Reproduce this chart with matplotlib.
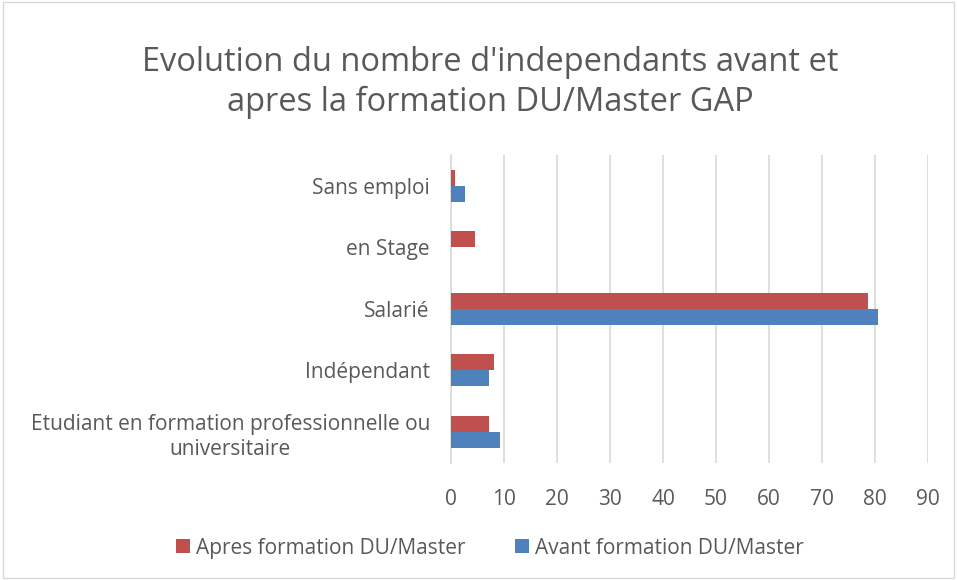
import numpy as np
import matplotlib.pyplot as plt

# ── data ────────────────────────────────────────────────────────────────────
categories = [
    "Etudiant en formation professionnelle ou\nuniversitaire",
    "Indépendant",
    "Salarié",
    "en Stage",
    "Sans emploi",
]
apres = [7.3, 8.2, 78.7, 4.5, 0.8]
avant = [9.2, 7.3, 80.6, 0.0, 2.7]
series_names = ["Apres formation DU/Master", "Avant formation DU/Master"]
xticks = list(range(0, 100, 10))
title = "Evolution du nombre d'independants avant et\napres la formation DU/Master GAP"
# ────────────────────────────────────────────────────────────────────────────

RED = "#C0504D"
BLUE = "#4F81BD"
TXT = "#595959"
GRID = "#D9D9D9"

plt.rcParams["font.family"] = ["Open Sans", "DejaVu Sans"]

fig = plt.figure(figsize=(9.57, 5.8), dpi=100)
ax = fig.add_axes([0.471, 0.202, 0.499, 0.531])

y = np.arange(len(categories))
h = 0.26
ax.barh(y + h / 2, apres, height=h, color=RED, label=series_names[0], zorder=3)
ax.barh(y - h / 2, avant, height=h, color=BLUE, label=series_names[1], zorder=3)

ax.set_xlim(0, 90)
ax.set_ylim(-0.5, len(categories) - 0.5)
ax.set_xticks(xticks)
ax.set_yticks(y)
ax.set_yticklabels(categories, multialignment="center", linespacing=1.25)
ax.tick_params(axis="both", length=0, colors=TXT, labelsize=15)
ax.tick_params(axis="y", pad=15)
ax.tick_params(axis="x", pad=19)
ax.xaxis.grid(True, color=GRID, linewidth=1.2, zorder=0)
for s in ["top", "right", "bottom"]:
    ax.spines[s].set_visible(False)
ax.spines["left"].set_color(GRID)
ax.spines["left"].set_linewidth(1.2)

fig.suptitle(title, x=0.512, y=0.92, fontsize=23.5, color=TXT, linespacing=1.25)

handles, labels = ax.get_legend_handles_labels()
fig.legend(handles, labels, loc="center", bbox_to_anchor=(0.512, 0.055), ncol=2,
           frameon=False, fontsize=15, labelcolor=TXT, handlelength=0.65,
           handleheight=0.65, handletextpad=0.3, columnspacing=2.4)

fig.patches.append(plt.Rectangle((0.003, 0.003), 0.994, 0.994, transform=fig.transFigure,
                                 fill=False, edgecolor=GRID, linewidth=1))

fig.savefig("out.png", dpi=100)
